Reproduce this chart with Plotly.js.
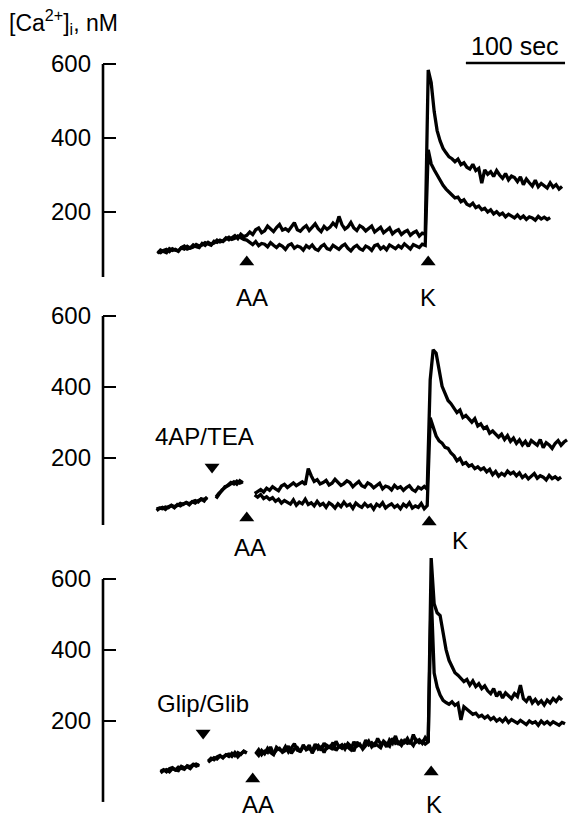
<!DOCTYPE html>
<html><head><meta charset="utf-8">
<script src="https://cdn.plot.ly/plotly-3.0.1.min.js"></script>
<style>html,body{margin:0;padding:0;background:#fff;}</style>
</head><body><div id="chart" style="width:569px;height:819px;"></div>
<script>
// ---------------- DATA ----------------
const sampleInterval = 3;          // seconds between samples
const p1Start = 55;                // first sample time, s
const p2Start = 54;
const p3Start = 58;

// Panel 1 (control): two cells
const p1Upper = [88,97,93,90,101,96,99,94,104,108,100,103,111,106,104,115,110,118,113,116,124,119,122,130,125,131,136,128,140,133,137,
 146,139,152,157,144,149,162,154,147,158,
 166,151,155,149,160,171,152,148,157,163,
 150,158,168,155,147,161,153,159,170,162,
 188,166,154,160,172,157,150,163,158,149,
 155,162,146,153,159,144,150,157,141,148,
 152,139,146,150,137,144,148,135,143,140,
 584,
 550,472,420,392,372,360,349,344,336,
 343,328,333,321,316,329,312,318,278,314,
 302,309,296,312,300,291,304,287,297,293,
 282,295,274,289,279,270,286,268,277,272,
 265,279,267,274,262,269];
const p1Lower = [92,90,96,99,93,101,97,95,103,100,107,102,105,112,108,111,117,113,110,121,118,124,120,127,132,126,129,135,130,126,124,
 118,112,120,109,115,113,106,117,110,104,
 112,107,99,110,114,102,108,105,97,109,
 103,111,100,96,107,112,101,98,110,104,
 99,108,113,102,95,105,110,101,97,108,
 104,96,109,112,100,106,98,111,107,101,
 109,103,114,106,100,112,108,104,113,110,
 368,
 330,314,300,284,272,262,255,246,238,
 240,228,233,221,217,224,212,216,206,210,
 200,206,195,201,192,197,187,194,189,184,
 192,183,189,180,187,184,178,188,181,186,
 180,185];

// Panel 2 (4AP/TEA)
const p2Upper = [52,58,61,55,63,66,60,69,65,71,74,68,77,73,80,84,79,90,
 null,null,
 86,97,110,116,124,131,127,135,129,133,
 null,null,null,
 100,106,111,104,115,109,119,113,108,121,
 126,117,123,130,122,127,133,125,170,150,
 134,139,127,131,137,124,129,140,132,123,
 128,136,131,119,127,134,122,118,130,125,
 116,124,129,113,121,118,110,123,115,119,
 109,117,122,111,106,118,113,120,112,
 420,505,495,452,402,382,362,353,341,
 328,335,314,320,309,301,311,290,296,283,
 288,270,276,266,259,267,252,263,247,256,
 241,251,237,247,233,249,243,236,252,229,
 243,237,227,241,249,236,245,251];
const p2Lower = [56,59,57,62,60,67,63,66,72,69,75,71,77,80,76,85,83,88,
 null,null,
 90,101,108,119,122,129,133,126,136,130,
 null,null,null,
 96,90,97,86,91,83,88,78,84,73,
 80,75,70,82,67,76,71,84,69,74,
 65,78,67,72,61,74,68,59,71,63,
 76,65,70,58,73,66,61,72,63,68,
 56,70,64,74,59,66,71,61,67,57,
 70,63,74,59,65,61,72,57,66,
 313,290,262,248,242,230,227,214,206,
 192,199,183,187,177,181,170,175,167,172,
 161,168,153,162,149,157,151,163,155,160,
 150,158,145,152,141,149,156,143,150,146,
 138,151,142,147,140,146];

// Panel 3 (Glip/Glib)
const p3Upper = [54,60,63,57,66,62,70,67,64,74,71,78,73,77,
 null,null,
 87,95,91,99,103,96,105,100,109,102,111,106,115,110,
 null,null,
 112,103,117,108,123,111,105,126,119,114,
 128,113,124,136,118,115,127,121,132,109,
 125,131,117,138,123,129,119,143,127,133,
 121,137,129,115,141,131,125,146,133,139,
 128,151,135,141,127,147,137,158,133,145,
 139,151,135,162,141,147,137,153,141,
 659,
 530,505,497,452,401,371,352,336,329,
 321,311,317,301,313,297,305,291,299,285,
 277,291,269,283,265,279,271,263,277,269,
 301,263,255,269,251,261,249,257,245,259,
 251,263,255,267,259];
const p3Lower = [58,63,57,66,69,62,60,72,68,71,66,76,79,74,
 null,null,
 84,90,97,93,101,98,104,107,100,111,99,108,114,110,
 null,null,
 108,119,105,115,111,127,107,118,123,112,
 117,129,109,121,125,113,133,119,123,115,
 135,121,127,111,131,125,139,117,129,123,
 133,127,119,141,129,135,121,131,143,127,
 137,131,125,143,135,129,151,137,141,131,
 145,137,141,131,147,139,143,135,141,
 560,
 335,296,273,258,252,247,254,244,250,
 203,240,232,226,219,222,212,216,208,214,
 204,210,200,206,198,208,196,204,200,194,
 202,196,190,200,194,198,188,200,192,198,
 190,198,194,188,196,192];

// Event markers (time of addition, s) and their labels
const p1EventTimes = [145, 328];
const p1EventLabels = ['AA', 'K'];
const p2EventTimes = [110, 145, 329];
const p2EventLabels = ['4AP/TEA', 'AA', 'K'];
const p3EventTimes = [101, 151, 331];
const p3EventLabels = ['Glip/Glib', 'AA', 'K'];

const tickValues = [200, 400, 600];
const tickLabels = ['200', '400', '600'];
const scaleBarSeconds = 100;
const yTitle = '[Ca<sup>2+</sup>]<sub>i</sub>, nM';

// ---------------- LAYOUT / STYLE ----------------
const W = 569, H = 819, L = 103;
const FONT = 'Liberation Sans, Arial, Helvetica, sans-serif';
// pixel geometry of each panel: y_px = a - b*value
const geo = [
  {a: 286, b: 0.37, vmin: 24, vtop: 620, ax: 'y'},
  {a: 529, b: 0.355, vmin: 11, vtop: 620, ax: 'y2'},
  {a: 792, b: 0.355, vmin: -28, vtop: 680, ax: 'y3'}
];
const pxToPaperY = py => 1 - py / H;
const pxToVal = (g, py) => (g.a - py) / g.b;

function times(start, n) {
  const t = [];
  for (let i = 0; i < n; i++) t.push(start + i * sampleInterval);
  return t;
}
function lineTrace(start, vals, ax) {
  return {x: times(start, vals.length), y: vals, xaxis: 'x', yaxis: ax,
    type: 'scatter', mode: 'lines', connectgaps: false, hoverinfo: 'skip',
    line: {color: '#000', width: 3.3}};
}
// arrow pixel heights and symbols per panel
const arrowSpec = [
  {py: [262, 262], sym: ['triangle-up', 'triangle-up']},
  {py: [467, 518, 522], sym: ['triangle-down', 'triangle-up', 'triangle-up']},
  {py: [733, 779, 772], sym: ['triangle-down', 'triangle-up', 'triangle-up']}
];
// label pixel centres per panel
const labelSpec = [
  [[252, 297], [428, 297]],
  [[204, 436], [250, 547], [460, 540]],
  [[203, 703], [258, 804], [434, 804]]
];
const eventTimes = [p1EventTimes, p2EventTimes, p3EventTimes];
const eventLabels = [p1EventLabels, p2EventLabels, p3EventLabels];

const data = [
  lineTrace(p1Start, p1Upper, 'y'), lineTrace(p1Start, p1Lower, 'y'),
  lineTrace(p2Start, p2Upper, 'y2'), lineTrace(p2Start, p2Lower, 'y2'),
  lineTrace(p3Start, p3Upper, 'y3'), lineTrace(p3Start, p3Lower, 'y3')
];
const annotations = [];
const shapes = [];
geo.forEach((g, k) => {
  data.push({x: eventTimes[k], y: arrowSpec[k].py.map(py => pxToVal(g, py)),
    xaxis: 'x', yaxis: g.ax, type: 'scatter', mode: 'markers', hoverinfo: 'skip',
    cliponaxis: false,
    marker: {symbol: arrowSpec[k].sym, size: 13, color: '#000', line: {width: 0}}});
  eventLabels[k].forEach((lab, j) => {
    annotations.push({text: lab, xref: 'paper', yref: 'paper',
      x: (labelSpec[k][j][0] - L) / (W - L), y: pxToPaperY(labelSpec[k][j][1]),
      xanchor: 'center', yanchor: 'middle', showarrow: false,
      font: {family: FONT, size: 24, color: '#000'}});
  });
  shapes.push({type: 'line', xref: 'paper', yref: g.ax, x0: 0, x1: 0,
    y0: g.vmin, y1: 600, line: {color: '#000', width: 2.6}});
});
annotations.push({text: yTitle, xref: 'paper', yref: 'paper',
  x: (7 - L) / (W - L), y: pxToPaperY(22), xanchor: 'left', yanchor: 'middle',
  showarrow: false, font: {family: FONT, size: 23, color: '#000'}});
const barStart = 366;
annotations.push({text: scaleBarSeconds + ' sec', xref: 'x', yref: 'paper',
  x: barStart + scaleBarSeconds / 2, y: pxToPaperY(46), xanchor: 'center', yanchor: 'middle',
  showarrow: false, font: {family: FONT, size: 25, color: '#000'}});
shapes.push({type: 'line', xref: 'x', yref: 'paper', x0: barStart, x1: barStart + scaleBarSeconds,
  y0: pxToPaperY(63), y1: pxToPaperY(63), line: {color: '#000', width: 2.6}});

function yax(g) {
  return {domain: [1 - (g.a - g.b * g.vmin) / H, 1 - (g.a - g.b * g.vtop) / H],
    range: [g.vmin, g.vtop], anchor: 'x', tickvals: tickValues, ticktext: tickLabels,
    ticks: 'inside', ticklen: 13, tickwidth: 2.5, tickcolor: '#000',
    showgrid: false, zeroline: false, showline: false, ticklabelstandoff: 11,
    tickfont: {family: FONT, size: 24, color: '#000'}, fixedrange: true};
}
const layout = {
  width: W, height: H, margin: {l: L, r: 0, t: 0, b: 0, pad: 0},
  paper_bgcolor: '#fff', plot_bgcolor: 'rgba(0,0,0,0)', showlegend: false,
  xaxis: {domain: [0, 1], range: [0, 470], visible: false, anchor: 'y', fixedrange: true},
  yaxis: yax(geo[0]), yaxis2: yax(geo[1]), yaxis3: yax(geo[2]),
  annotations: annotations, shapes: shapes
};
Plotly.newPlot('chart', data, layout, {displayModeBar: false, staticPlot: true});
</script>
</body></html>
